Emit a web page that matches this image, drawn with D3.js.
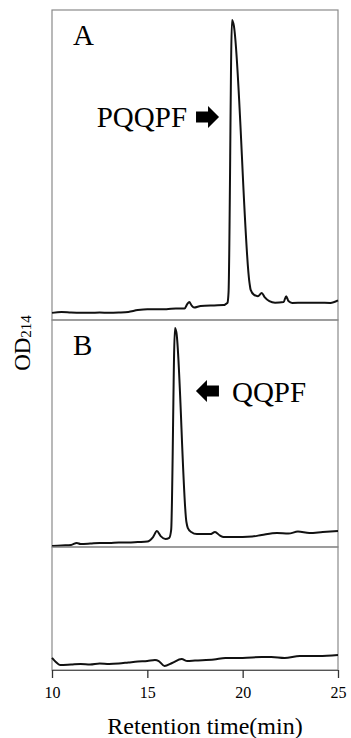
<!DOCTYPE html>
<html>
<head>
<meta charset="utf-8">
<script src="https://cdn.jsdelivr.net/npm/d3@7"></script>
<style>
  body { margin: 0; background: #fff; }
  svg { display: block; font-family: "Liberation Serif", "DejaVu Serif", serif; }
</style>
</head>
<body>
<div id="chart"></div>
<script>
// retention time (min) and OD214 (relative, per panel)
var timeA = [10.0,10.5,11.0,11.5,12.0,12.5,13.0,13.5,14.0,14.5,15.0,15.5,16.0,16.5,16.95,17.1,17.2,17.32,17.45,17.8,18.5,19.0,19.15,19.2,19.26,19.44,19.52,20.36,20.42,20.6,20.8,21.0,21.15,21.4,21.7,22.15,22.28,22.4,22.6,23.2,24.0,24.6,25.0]
var odA   = [.023,.026,.024,.023,.023,.024,.023,.024,.026,.032,.035,.035,.035,.037,.037,.052,.058,.047,.040,.045,.047,.048,.053,.055,.090,.968,.955,.119,.097,.081,.077,.087,.074,.061,.056,.058,.077,.061,.055,.056,.056,.055,.063]

var timeB = [10.0,10.5,11.0,11.3,11.5,12.0,12.5,13.0,13.5,14.0,14.5,15.0,15.3,15.5,15.7,15.95,16.15,16.25,16.45,16.52,17.05,17.12,17.3,17.6,18.3,18.55,18.8,19.0,19.5,20.0,20.5,21.0,21.8,22.4,22.9,23.5,24.2,25.0]
var odB   = [.004,.007,.009,.018,.013,.015,.018,.018,.020,.020,.022,.024,.044,.070,.048,.035,.040,.075,.965,.947,.110,.084,.066,.057,.057,.066,.051,.044,.044,.044,.046,.053,.062,.059,.068,.062,.066,.070]

var timeC = [10.0,10.2,10.42,11.0,11.5,12.0,12.5,13.0,13.5,14.0,14.5,15.0,15.4,15.6,15.9,16.3,16.8,17.1,17.5,18.5,19.1,20.0,21.0,21.5,22.2,23.0,24.0,25.0]
var odC   = [.098,.065,.041,.045,.049,.045,.053,.049,.053,.061,.069,.073,.081,.073,.033,.057,.089,.073,.077,.085,.098,.098,.106,.106,.098,.114,.114,.122]

var xTicks = [10,15,20,25]
var panelNames = ['A','B','']
var peakNames = ['PQQPF','QQPF','']
var arrowTime = [18.76,17.55]   // where the arrow tips point

var width = 351, height = 738
var left = 52, right = 338
var panelTop = [10,320,547], panelBottom = [320,547,670]

var svg = d3.select('#chart')
    .append('svg')
    .attr('width',width)
    .attr('height',height)

var x = d3.scaleLinear().domain([10,25]).range([left,right])

var series = [
  timeA.map((t,i)=>[t,odA[i]]),
  timeB.map((t,i)=>[t,odB[i]]),
  timeC.map((t,i)=>[t,odC[i]])
]

series.forEach((data,k)=>{
  var y = d3.scaleLinear().domain([0,1]).range([panelBottom[k],panelTop[k]])

  svg.append('rect')
    .attr('x',left).attr('y',panelTop[k])
    .attr('width',right-left).attr('height',panelBottom[k]-panelTop[k])
    .attr('fill','none').attr('stroke','#8a8a8a').attr('stroke-width',1.2)

  var line = d3.line()
    .x(d=>x(d[0]))
    .y(d=>y(d[1]))
    .curve(d3.curveMonotoneX)

  svg.append('path')
    .datum(data)
    .attr('d',line)
    .attr('fill','none')
    .attr('stroke','#111')
    .attr('stroke-width',2)
    .attr('stroke-linejoin','round')

  if(panelNames[k]){
    svg.append('text')
      .attr('x',73).attr('y',panelTop[k]+35)
      .attr('font-size',29)
      .text(panelNames[k])
  }
})

// peak annotations
var arrow = (tipX,cy,dir)=>{
  // dir 1 = points right, -1 = points left
  var p = [[-23,-5.5],[-11,-5.5],[-11,-11],[0,0],[-11,11],[-11,5.5],[-23,5.5]]
  svg.append('path')
    .attr('d','M'+p.map(d=>[tipX+dir*d[0],cy+d[1]].join(',')).join('L')+'Z')
    .attr('fill','#000')
}
arrow(x(arrowTime[0]),117,1)
svg.append('text')
  .attr('x',x(arrowTime[0])-32).attr('y',127)
  .attr('text-anchor','end')
  .attr('font-size',29)
  .text(peakNames[0])

arrow(x(arrowTime[1]),391,-1)
svg.append('text')
  .attr('x',x(arrowTime[1])+36).attr('y',402)
  .attr('font-size',29)
  .text(peakNames[1])

// x axis
var axis = svg.append('g')
  .attr('transform',`translate(0,${panelBottom[2]})`)
  .call(d3.axisBottom(x).tickValues(xTicks).tickSize(8).tickPadding(9).tickSizeOuter(0))
axis.select('.domain').attr('stroke','#555')
axis.selectAll('.tick line').attr('stroke','#333').attr('stroke-width',1.3)
axis.selectAll('.tick text')
  .attr('font-family','"Liberation Serif", serif')
  .attr('font-size',16)
  .attr('fill','#000')

svg.append('text')
  .attr('x',205).attr('y',734)
  .attr('text-anchor','middle')
  .attr('font-size',24)
  .text('Retention time(min)')

var yl = svg.append('text')
  .attr('transform','translate(30,343) rotate(-90)')
  .attr('text-anchor','middle')
  .attr('font-size',23)
yl.append('tspan').text('OD')
yl.append('tspan').attr('font-size',15).attr('dy',1).text('214')
</script>
</body>
</html>
